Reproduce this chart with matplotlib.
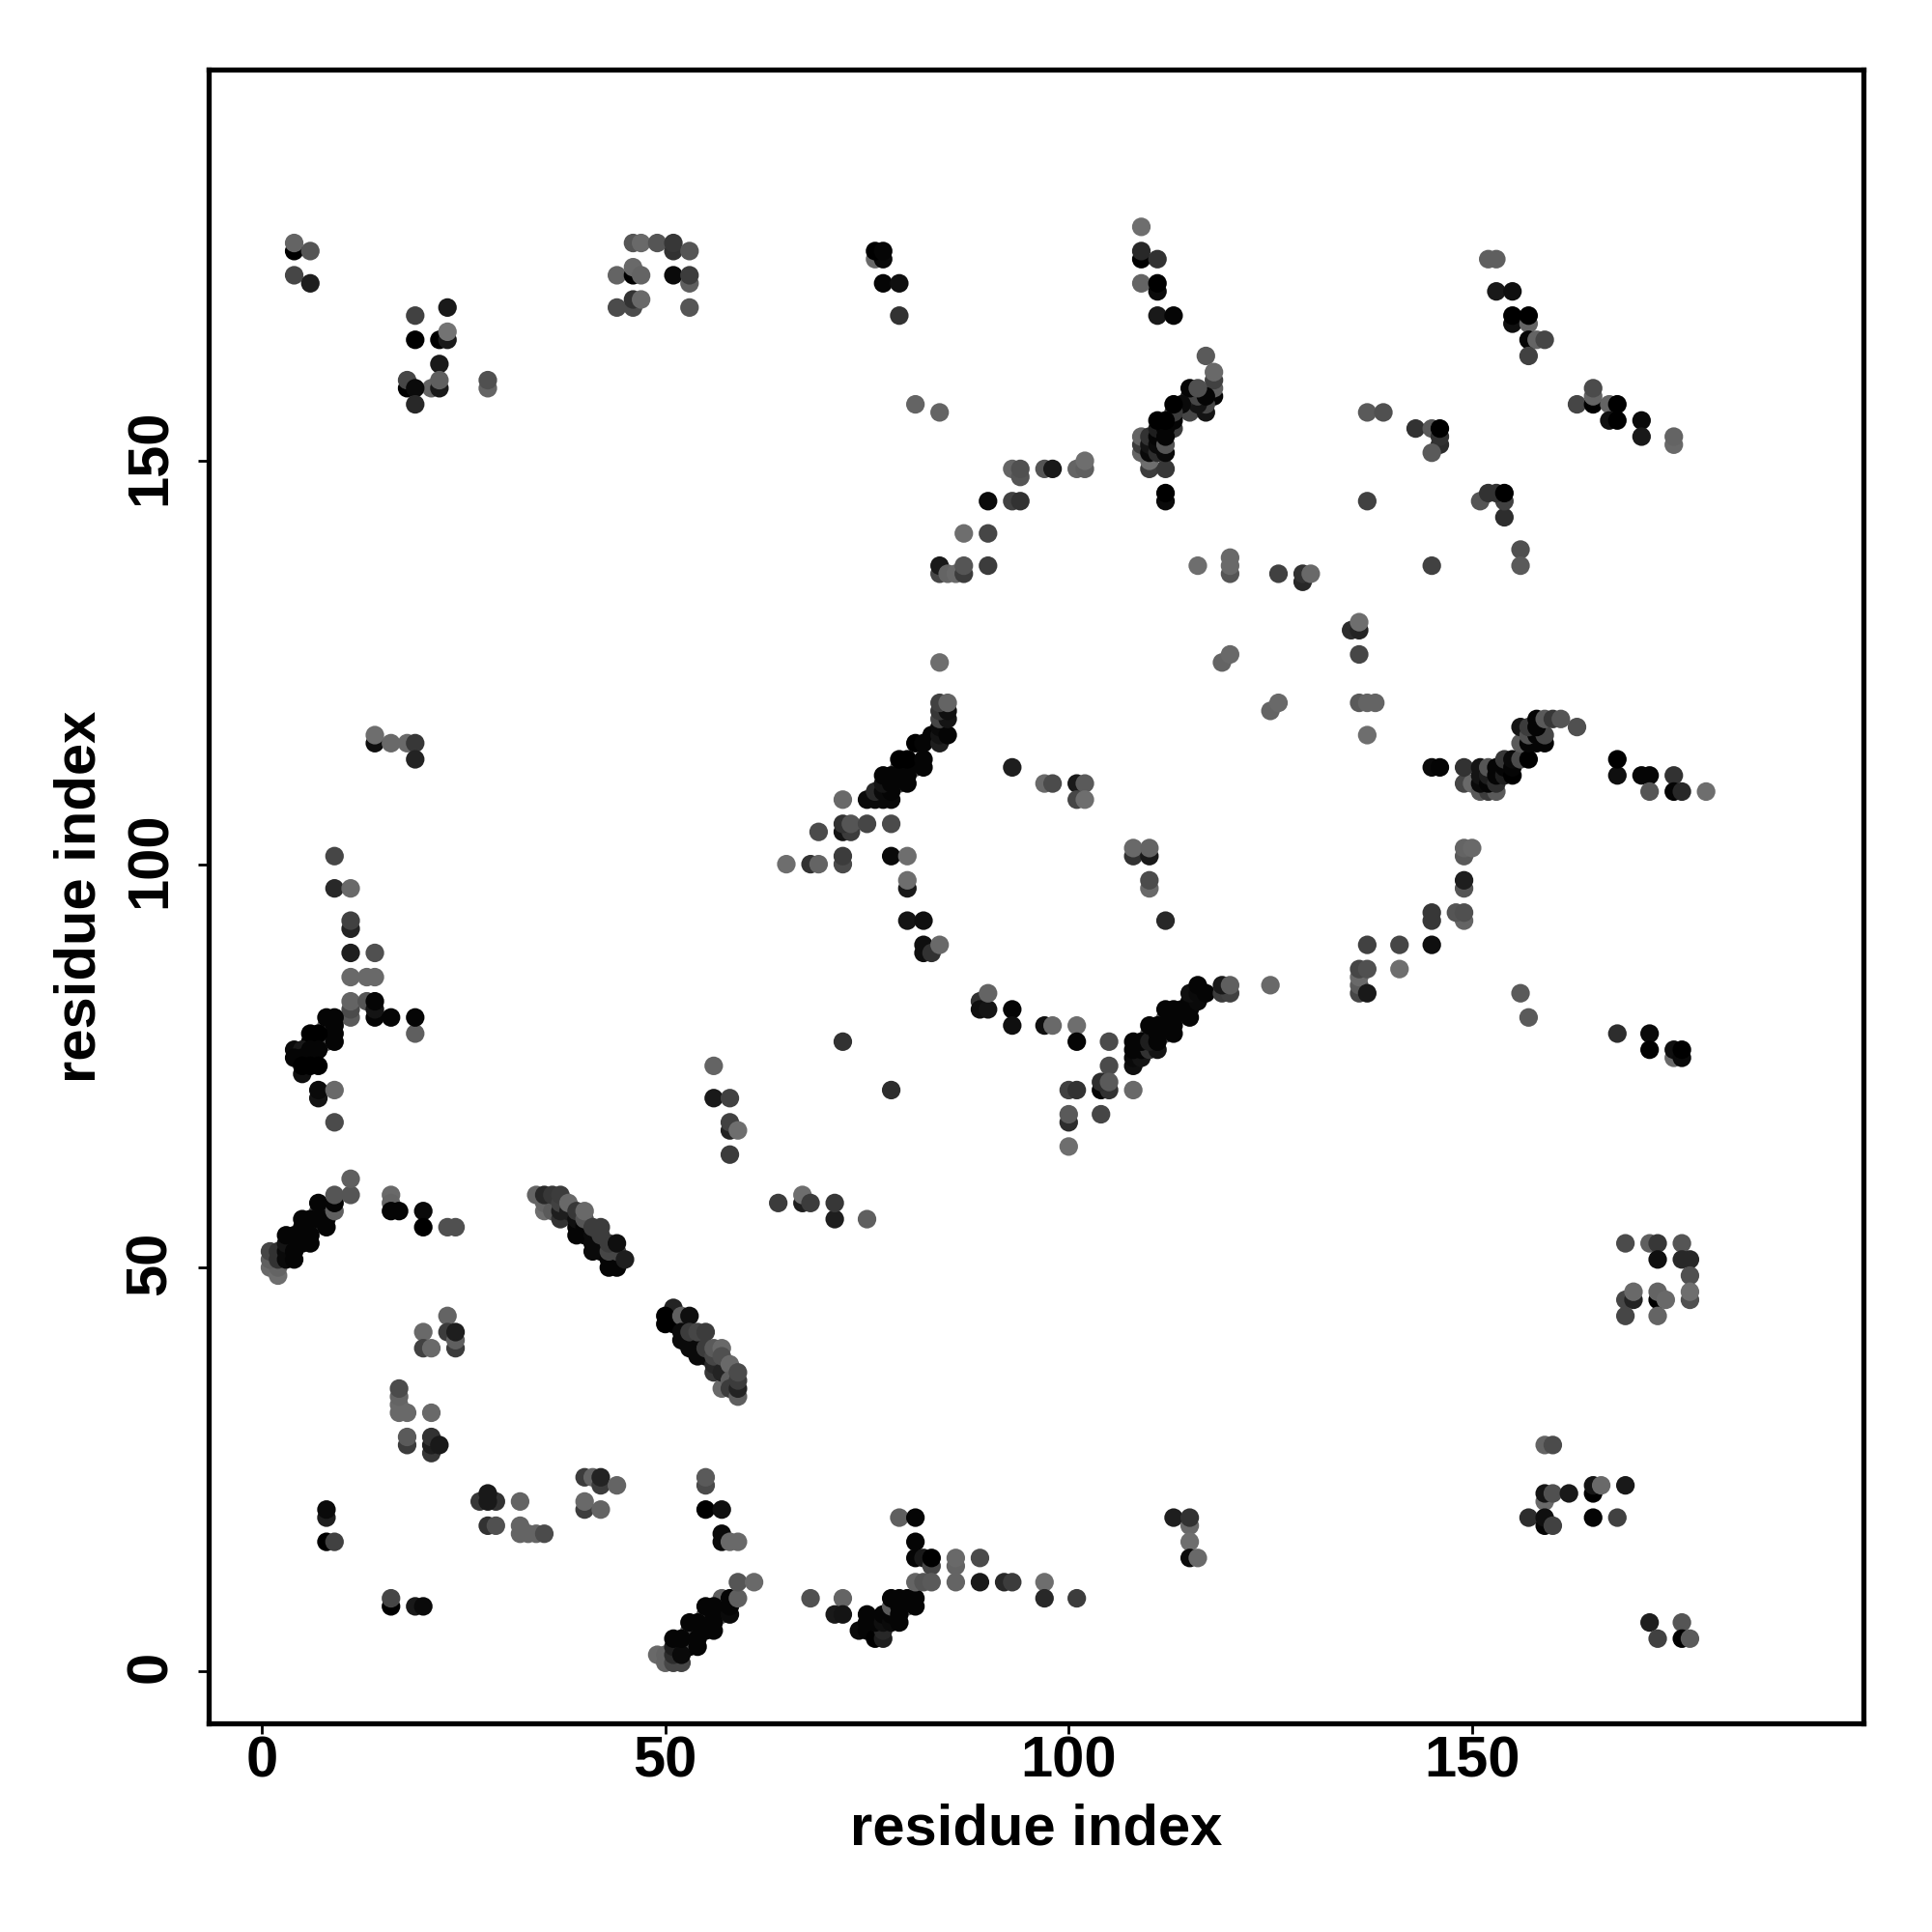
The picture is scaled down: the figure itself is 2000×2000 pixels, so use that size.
import numpy as np
import matplotlib
matplotlib.use('Agg')
import matplotlib.pyplot as plt
from matplotlib.transforms import ScaledTranslation

# kontakty: (residue i, residue j, poziom szarosci 0-110)
cl_top_left = [(4,176,0),(4,177,100),(6,176,85),(4,173,70),(6,172,30)]
cl_top_19 = [(19,168,65),(23,169,25),(19,165,0),(22,165,0),(23,165,25),(23,166,115),(22,162,25),
             (18,159,0),(18,160,70),(21,159,100),(19,159,10),(22,159,25),(22,160,95),(19,157,40),
             (28,159,100),(28,160,80)]
cl_top_50 = [(46,177,85),(47,177,105),(49,177,85),(51,176,50),(51,177,55),(53,176,85),(44,173,100),
             (46,173,0),(46,174,105),(47,173,100),(51,173,10),(53,172,95),(53,173,60),(44,169,75),
             (46,169,75),(46,170,50),(47,170,105),(53,169,85)]
cl_top_76 = [(76,175,105),(77,175,10),(76,176,0),(77,176,5),(77,172,5),(79,172,15),(79,168,50)]
cl_top_110 = [(109,179,110),(109,175,0),(109,176,40),(111,175,50),(109,172,100),(111,171,10),(111,172,0),
              (111,168,25),(113,168,5)]
cl_top_81 = [(81,157,100),(84,156,100)]
cl_diag_110 = [(117,163,90),(118,158,5),(118,159,95),(118,160,65),(118,161,105),(115,156,70),(117,156,20),
               (117,157,70),(116,157,20),(115,158,30),(116,158,70),(117,158,5),(115,159,5),(116,159,80),
               (114,157,10),(113,154,60),(113,155,5),(113,156,60),(113,157,0),(110,149,60),(112,149,55),
               (110,150,110),(109,151,100),(109,152,60),(109,153,100),(110,151,10),(110,152,20),(110,153,50),
               (111,151,45),(111,152,10),(111,153,5),(111,154,30),(112,151,10),(112,152,85),(112,153,5),
               (112,154,5),(111,155,0),(112,155,0),(112,145,10),(112,146,0)]
cl_arc_90 = [(93,149,100),(94,148,85),(94,149,80),(97,149,85),(98,149,25),(101,149,100),(102,149,95),
             (102,150,110),(90,145,10),(93,145,65),(94,145,50),(87,141,110),(90,141,70),(84,136,70),
             (84,137,25),(85,136,100),(86,136,105),(87,136,60),(87,137,85),(90,137,60)]
cl_mid_120 = [(116,137,110),(120,136,85),(120,137,105),(120,138,105),(126,136,65),(129,135,40),(129,136,50),
              (130,136,105),(119,125,100),(120,126,105),(125,119,100),(126,120,105)]
cl_top_right = [(152,175,95),(153,175,95),(153,171,25),(155,171,15),(155,167,15),(155,168,0),(157,167,100),
                (157,168,0),(157,165,5),(158,165,100),(159,165,70),(157,163,65),(163,157,70),(165,157,0),
                (165,158,100),(165,159,75),(167,157,100),(168,157,0),(167,155,15),(168,155,0),(171,155,10),
                (171,153,25),(175,152,105),(175,153,100)]
cl_right_145 = [(137,156,90),(139,156,80),(143,154,50),(145,154,90),(146,152,45),(146,153,50),(146,154,0),
                (145,151,90),(137,145,65),(151,145,85),(154,143,45),(154,145,65),(152,146,50),(153,146,50),
                (154,146,0),(145,137,65),(156,139,80),(156,137,90)]
cl_right_135 = [(135,129,45),(136,129,35),(136,130,110),(136,126,70),(136,120,90),(137,120,100),(138,120,100),
                (137,116,110),(84,125,110)]
cl_left_115 = [(14,115,15),(14,116,110),(16,115,105),(18,115,105),(19,115,55),(19,113,35)]
cl_left_90 = [(9,101,70),(9,97,40),(11,97,105),(11,92,35),(11,93,65),(11,89,30),(14,89,80),(11,86,105),
              (13,86,105),(14,86,105),(11,81,90),(11,82,75),(11,83,100),(13,83,85),(14,81,5),(14,82,20),
              (14,83,5),(16,81,5),(19,79,95),(19,81,5)]
cl_left_78 = [(8,80,100),(8,78,90),(8,81,5),(9,81,5),(9,80,5),(9,79,5),(9,78,5),(6,79,0),(7,79,0),(6,78,0),
              (4,77,10),(5,77,25),(6,77,5),(7,77,5),(4,76,5),(5,76,5),(6,76,5),(5,74,15),(5,75,0),(6,75,0),
              (7,75,0),(7,71,20),(7,72,10),(9,72,105),(9,68,75)]
cl_mid_58 = [(56,75,100),(56,71,25),(58,71,65),(58,67,35),(58,68,65),(59,67,110),(58,64,60)]
cl_helix_5 = [(1,50,105),(2,49,110),(2,50,100),(1,51,95),(1,52,70),(2,51,50),(2,52,50),(3,51,10),(3,52,10),
              (4,53,85),(5,54,85),(6,55,85),(7,57,90),(3,53,20),(3,54,5),(4,54,5),(4,52,5),(4,51,5),(5,53,5),
              (5,55,5),(5,56,5),(6,54,5),(6,53,5),(6,56,5),(7,56,5),(7,58,5),(8,55,5),(8,56,5),(9,57,95),
              (9,58,5),(9,59,85),(11,59,85),(11,61,95)]
cl_low_16 = [(16,59,105),(16,58,100),(16,57,5),(17,57,5),(20,57,10),(20,55,0),(23,55,80),(24,55,80)]
cl_helix_40 = [(34,59,100),(35,57,110),(35,58,100),(36,57,90),(35,59,40),(36,59,55),(37,56,50),(37,57,30),
               (37,58,65),(37,59,60),(38,57,30),(38,58,105),(39,55,5),(39,54,5),(39,56,15),(39,57,55),
               (40,54,5),(40,55,5),(40,56,85),(40,57,105),(41,52,10),(41,53,10),(41,54,10),(41,55,60),
               (42,52,10),(42,53,10),(42,54,60),(42,55,60),(43,50,5),(44,50,5),(43,51,5),(44,51,5),
               (43,52,70),(44,52,70),(43,53,60),(44,53,15),(45,51,30)]
cl_low_20 = [(23,44,100),(20,42,105),(23,42,60),(24,40,60),(24,41,95),(24,42,30),(20,40,65),(21,40,105),
             (17,32,105),(18,32,105),(17,33,105),(17,34,100),(17,35,75),(21,32,105),(18,28,60),(18,29,90),
             (21,27,55),(21,28,30),(21,29,50),(22,28,25)]
cl_low_8 = [(8,19,30),(8,20,10),(8,16,0),(9,16,65),(16,8,0),(16,9,70),(19,8,25),(20,8,10)]
cl_low_30 = [(27,21,55),(29,21,50),(28,22,25),(28,21,25),(32,21,100),(28,18,50),(29,18,80),(32,18,100),
             (32,17,100),(33,17,100),(34,17,100),(35,17,75),(40,24,60),(41,24,100),(42,23,60),(42,24,35),
             (44,23,100),(40,20,60),(40,21,105),(42,20,100)]
cl_low_55 = [(55,23,75),(55,24,90),(55,20,0),(57,20,15),(57,16,10),(57,17,10),(58,16,105),(59,16,105)]
cl_helix_55 = [(49,2,105),(50,1,100),(50,2,100),(51,1,70),(52,1,70),(53,3,5),(53,4,75),(52,3,80),(54,5,90),
               (53,5,85),(55,7,95),(57,7,90),(57,9,95),(51,2,45),(51,3,30),(51,4,5),(52,2,10),(52,4,5),
               (54,3,5),(54,4,5),(53,6,5),(54,6,5),(55,5,5),(56,5,5),(56,6,5),(56,7,5),(55,8,5),(56,8,5),
               (58,7,10),(58,8,5),(58,9,5),(59,9,95),(59,11,85),(61,11,105)]
cl_helix_mid = [(51,45,35),(50,43,0),(50,44,0),(51,43,0),(52,44,95),(53,44,15),(52,41,10),(52,42,10),
                (53,40,10),(53,42,60),(54,39,10),(54,40,10),(54,42,70),(55,39,10),(55,40,60),(55,42,60),
                (56,37,55),(56,38,40),(56,39,70),(56,40,90),(57,40,105),(57,35,105),(57,37,35),(57,39,80),
                (58,38,105),(58,36,95),(58,35,60),(59,34,95),(59,35,35),(59,36,60),(59,37,75)]
cl_ring = [(93,112,30),(97,110,105),(98,110,75),(101,110,25),(102,110,90),(101,108,70),(102,108,110),
           (108,101,50),(108,102,105),(110,101,25),(110,102,100),(110,97,105),(110,98,75),(112,93,40),
           (78,101,10),(80,101,110),(80,97,25),(80,98,110),(80,93,20),(82,93,15),(82,89,15),(82,90,15),
           (83,89,50),(84,90,105),(89,83,50),(89,82,15),(90,82,20),(90,84,100),(93,82,5),(93,80,15),
           (97,80,15),(98,80,105),(101,80,110),(101,78,5),(105,78,75),(105,75,75),(104,72,5),(105,72,50),
           (104,73,45),(105,73,90),(108,72,105),(100,72,65),(101,72,50),(100,68,45),(100,69,90),(104,69,70),
           (100,65,110),(72,78,50),(78,72,45)]
cl_diag_mid = [(112,79,90),(112,81,85),(110,79,85),(108,75,15),(108,76,10),(109,76,20),(108,77,5),(109,77,5),
               (110,77,50),(111,77,20),(108,78,5),(109,78,5),(110,78,30),(111,78,5),(111,79,5),(110,80,5),
               (111,80,5),(112,80,5),(113,79,5),(113,80,5),(113,81,5),(112,82,5),(113,82,5),(114,82,5),
               (115,81,5),(115,82,5),(115,83,5),(116,83,10),(115,84,15),(116,84,10),(117,84,5),(116,85,5),
               (119,84,60),(120,84,65),(119,85,25),(120,85,95),(125,85,105)]
cl_diag_up = [(72,108,105),(79,112,90),(79,110,70),(81,112,85),(75,108,10),(76,108,10),(77,108,10),(78,108,10),
              (76,109,40),(77,109,10),(78,109,5),(77,110,20),(78,110,5),(77,111,5),(78,111,5),(79,111,5),
              (80,110,5),(80,111,5),(80,112,5),(79,113,0),(80,113,0),(82,112,5),(82,113,5),(81,115,0),
              (82,115,5),(83,116,5),(84,115,30),(84,116,20),(84,117,10),(85,116,5),(84,118,70),(85,118,20),
              (84,119,55),(85,119,15),(84,120,65),(85,120,100)]
cl_left_100 = [(69,104,75),(72,104,20),(73,104,60),(72,105,50),(73,105,85),(75,105,70),(78,105,75),(65,100,110),
               (68,100,50),(69,100,100),(72,100,75),(72,101,60),(64,58,60),(67,58,30),(67,59,110),(68,58,60),
               (71,56,30),(71,58,55),(75,56,95)]
cl_right_diag = [(145,112,10),(146,112,5),(149,110,70),(150,110,105),(149,112,50),(151,109,90),(152,109,60),
                 (153,109,90),(151,110,10),(151,111,20),(151,112,20),(152,110,5),(152,111,30),(152,112,85),
                 (153,110,45),(153,111,5),(153,112,5),(154,111,30),(154,112,5),(154,113,55),(155,111,0),
                 (155,112,5),(155,113,10),(156,113,75),(157,113,0),(156,115,90),(157,115,5),(158,115,5),
                 (159,115,5),(156,117,20),(157,116,80),(158,116,5),(159,116,70),(157,117,60),(158,117,5),
                 (158,118,5),(159,118,90),(160,118,55),(161,118,85),(163,117,80),(168,111,15),(168,113,0),
                 (171,111,5),(172,111,5),(175,111,50),(172,109,85),(175,109,5),(176,109,40),(179,109,110)]
cl_right_95 = [(149,101,90),(149,102,100),(150,102,105),(149,97,85),(149,98,30),(145,93,55),(145,94,55),
               (149,93,100),(148,94,85),(149,94,80),(137,90,65),(141,90,70),(145,90,15),(136,84,70),(136,85,90),
               (136,86,105),(136,87,70),(137,87,80),(141,87,110),(137,84,25),(156,84,90),(157,81,90),
               (168,79,45),(172,79,10),(172,77,0),(175,76,105),(175,77,15),(176,76,10),(176,77,0)]
cl_right_50 = [(169,53,75),(172,53,95),(173,53,55),(176,53,85),(173,51,15),(176,51,40),(177,51,40),(177,49,80),
               (169,46,70),(170,46,35),(170,47,105),(173,46,0),(173,47,100),(174,46,105),(177,46,80),(177,47,110),
               (169,44,70),(173,44,100)]
cl_right_20 = [(159,28,100),(160,28,75),(159,21,105),(159,22,20),(160,22,80),(162,22,25),(165,22,0),(165,23,20),
               (166,23,105),(169,23,25),(157,19,45),(159,18,5),(159,19,15),(160,18,65),(165,19,5),(168,19,65),
               (172,6,30),(176,6,85),(173,4,65),(176,4,0),(177,4,90)]
cl_bottom_75 = [(68,9,80),(72,9,100),(71,7,25),(72,7,20),(74,5,10),(75,5,5),(75,6,5),(75,7,5),(76,4,0),
                (77,4,30),(77,5,40),(76,6,5),(77,6,15),(77,7,5),(78,6,10),(78,7,5),(79,6,5),(78,8,90),(80,8,100),
                (79,7,5),(79,8,5),(78,9,5),(79,9,5),(80,9,5),(81,8,5),(81,9,5)]
cl_bottom_85 = [(79,19,95),(81,19,5),(81,16,5),(81,14,5),(82,14,25),(83,13,70),(83,14,0),(81,11,100),(82,11,85),
                (83,11,90),(86,13,100),(86,14,105),(86,11,100),(89,14,75),(89,11,25),(92,11,40),(93,11,60),
                (97,11,110),(97,9,40),(101,9,60)]
cl_bottom_115 = [(113,19,30),(115,18,105),(115,19,50),(115,16,110),(115,14,10),(116,14,105)]

clusters = [cl_top_left, cl_top_19, cl_top_50, cl_top_76, cl_top_110, cl_top_81, cl_diag_110, cl_arc_90,
            cl_mid_120, cl_top_right, cl_right_145, cl_right_135, cl_left_115, cl_left_90, cl_left_78,
            cl_mid_58, cl_helix_5, cl_low_16, cl_helix_40, cl_low_20, cl_low_8, cl_low_30, cl_low_55,
            cl_helix_55, cl_helix_mid, cl_ring, cl_diag_mid, cl_diag_up, cl_left_100, cl_right_diag,
            cl_right_95, cl_right_50, cl_right_20, cl_bottom_75, cl_bottom_85, cl_bottom_115]

tick_vals = [0, 50, 100, 150]

plt.rcParams['font.family'] = ['Liberation Sans', 'DejaVu Sans']

fig = plt.figure(figsize=(20, 20), dpi=100)
ax = fig.add_axes([216 / 2000, 1 - 1784 / 2000, (1929 - 216) / 2000, (1784 - 72) / 2000])

for cl in clusters:
    arr = np.array(cl, dtype=float)
    ax.scatter(arr[:, 0], arr[:, 1], s=192, c=np.repeat(arr[:, 2], 3).reshape(-1, 3) / 255,
               linewidths=0, zorder=3)

ax.set_xlim(-6.6, 198.5)
ax.set_ylim(-6.5, 198.5)
ax.set_xticks(tick_vals)
ax.set_yticks(tick_vals)
ax.tick_params(axis='x', length=8, width=2, labelsize=43, pad=1)
ax.tick_params(axis='y', length=8, width=2, labelsize=43, pad=15)
for lab in ax.get_xticklabels():
    lab.set_fontweight('bold')
# etykiety osi y troche wyzej
przesuniecie = ScaledTranslation(0, 4 / 100, fig.dpi_scale_trans)
for lab in ax.get_yticklabels():
    lab.set_fontweight('bold')
    lab.set_rotation(90)
    lab.set_va('center')
    lab.set_transform(lab.get_transform() + przesuniecie)
for sp in ax.spines.values():
    sp.set_linewidth(3.8)

ax.set_xlabel('residue index', fontsize=43, fontweight='bold', labelpad=11)
ax.set_ylabel('residue index', fontsize=43, fontweight='bold', labelpad=13)

fig.savefig('out.png', dpi=100, facecolor='white')
